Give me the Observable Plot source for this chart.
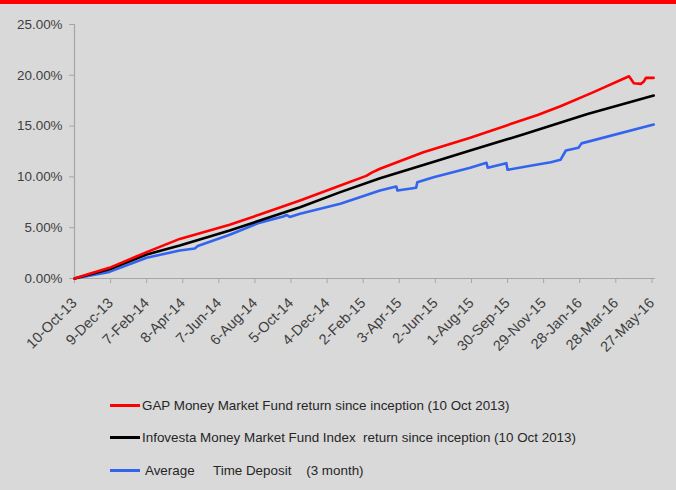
<!DOCTYPE html>
<html><head><meta charset="utf-8">
<script src="https://cdn.jsdelivr.net/npm/d3@7"></script>
<script src="https://cdn.jsdelivr.net/npm/@observablehq/plot@0.6"></script>
<style>
html,body{margin:0;padding:0;background:#d9d9d9;width:676px;height:490px;overflow:hidden;font-family:"Liberation Sans",Arial,sans-serif;}
#bar{position:absolute;left:0;top:0;width:676px;height:4px;background:#ff0000;}
#chart{position:absolute;left:0;top:0;}
#legend{position:absolute;left:110px;top:389px;color:#262626;font-size:13.4px;}
.row{display:flex;align-items:center;height:32.5px;white-space:pre;}
.sw{width:30px;height:3px;margin-right:2px;flex:none;}
</style></head><body>
<div id="chart"></div><div id="bar"></div><div id="legend"></div>
<script>
const seriesNames = [
  "GAP Money Market Fund return since inception (10 Oct 2013)",
  "Infovesta Money Market Fund Index  return since inception (10 Oct 2013)",
  " Average     Time Deposit    (3 month)"
];
const seriesColors = ["#ff0000", "#000000", "#3264f0"];

const gapDates = ["2013-10-10","2013-11-04","2013-12-07","2014-02-07","2014-04-03","2014-06-25","2014-08-14","2014-10-20","2014-12-26","2015-02-07","2015-02-17","2015-03-02","2015-05-13","2015-07-30","2015-10-05","2015-11-19","2015-12-27","2016-02-20","2016-04-19","2016-04-27","2016-05-09","2016-05-14","2016-05-17","2016-05-30"];
const gapValues = [0,0.46,1.05,2.6,3.9,5.3,6.3,7.68,9.15,10.1,10.45,10.8,12.43,13.85,15.2,16.1,16.96,18.34,19.91,19.22,19.16,19.42,19.75,19.75];

const indexDates = ["2013-10-10","2013-12-07","2014-02-07","2014-04-03","2014-06-25","2014-08-14","2014-10-20","2014-12-26","2015-03-02","2015-06-05","2015-07-30","2015-10-27","2016-02-10","2016-05-30"];
const indexValues = [0,0.9,2.36,3.25,4.72,5.7,7.02,8.5,9.87,11.6,12.6,14.2,16.2,18.0];

const depositDates = ["2013-10-10","2013-12-07","2014-02-07","2014-04-03","2014-04-28","2014-05-03","2014-06-25","2014-08-14","2014-09-22","2014-09-28","2014-10-03","2014-10-20","2014-12-26","2015-03-02","2015-03-29","2015-03-31","2015-05-01","2015-05-03","2015-05-30","2015-07-30","2015-08-26","2015-08-28","2015-09-28","2015-09-30","2015-11-07","2015-12-11","2015-12-27","2016-01-05","2016-01-26","2016-01-31","2016-05-30"];
const depositValues = [0,0.65,2.04,2.76,2.95,3.2,4.3,5.5,6.1,6.25,6.05,6.37,7.35,8.66,9.06,8.66,8.93,9.48,9.97,10.9,11.39,10.9,11.35,10.7,11.1,11.45,11.68,12.6,12.86,13.3,15.16];

const xTickDates = ["2013-10-10","2013-12-09","2014-02-07","2014-04-08","2014-06-07","2014-08-06","2014-10-05","2014-12-04","2015-02-02","2015-04-03","2015-06-02","2015-08-01","2015-09-30","2015-11-29","2016-01-28","2016-03-28","2016-05-27"];
const yTicks = [0, 5, 10, 15, 20, 25];

const toRows = (dates, values) => dates.map((d, i) => ({date: new Date(d), value: values[i]}));
const seriesRows = [toRows(gapDates, gapValues), toRows(indexDates, indexValues), toRows(depositDates, depositValues)];
const fmt = d3.utcFormat("%-d-%b-%y");
const axisGray = "#a6a6a6";
const xDomain = [new Date("2013-10-10"), new Date("2016-06-02")];

const chart = Plot.plot({
  width: 676, height: 380,
  marginLeft: 74, marginRight: 21, marginTop: 24, marginBottom: 102,
  style: {background: "transparent", fontFamily: "'Liberation Sans', Arial, sans-serif", fontSize: "13.4px", color: "#404040"},
  x: {type: "utc", domain: xDomain},
  y: {domain: [0, 25]},
  marks: [
    Plot.axisY({ticks: yTicks, tickSize: 5, tickPadding: 7, tickFormat: d => d.toFixed(2) + "%", label: null, stroke: axisGray}),
    Plot.axisX({ticks: xTickDates.map(d => new Date(d)), tickSize: 5, tickPadding: 17, tickRotate: -45, tickFormat: fmt, label: null, stroke: axisGray, fontSize: 14.5}),
    Plot.ruleX([xDomain[0]], {y1: 0, y2: 25, stroke: axisGray, strokeWidth: 1.2}),
    Plot.ruleY([0], {stroke: axisGray, strokeWidth: 1.2}),
    Plot.line(seriesRows[2], {x: "date", y: "value", stroke: seriesColors[2], strokeWidth: 2.6}),
    Plot.line(seriesRows[1], {x: "date", y: "value", stroke: seriesColors[1], strokeWidth: 2.6}),
    Plot.line(seriesRows[0], {x: "date", y: "value", stroke: seriesColors[0], strokeWidth: 2.6})
  ]
});
document.getElementById("chart").appendChild(chart);

const legend = document.getElementById("legend");
seriesNames.forEach((name, i) => {
  const row = document.createElement("div");
  row.className = "row";
  const sw = document.createElement("span");
  sw.className = "sw";
  sw.style.background = seriesColors[i];
  const t = document.createElement("span");
  t.textContent = name;
  row.appendChild(sw); row.appendChild(t);
  legend.appendChild(row);
});
</script>
</body></html>
